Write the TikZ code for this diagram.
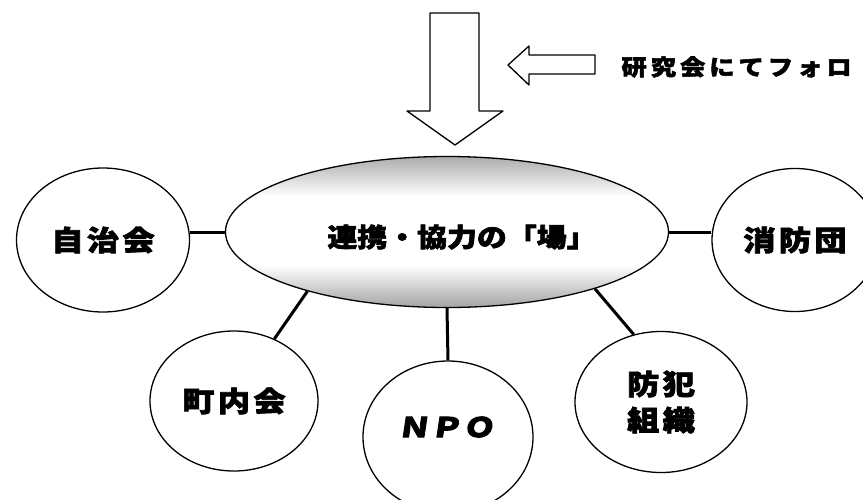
\documentclass[tikz,border=0pt]{standalone}
\usepackage{fontspec}
\usetikzlibrary{shapes.geometric}
\newfontfamily\cjk{Noto Sans CJK JP}[FakeStretch=1.15, FakeBold=2.5]
\newfontfamily\cjkslant{Noto Sans CJK JP}[FakeStretch=1.2, FakeBold=3, FakeSlant=0.15]
\pgfdeclareverticalshading{fieldshade}{100bp}{color(0bp)=(gray!72); color(25bp)=(gray!72); color(39bp)=(white); color(62bp)=(white); color(75bp)=(gray!65); color(100bp)=(gray!65)}
\begin{document}
\begin{tikzpicture}[x=1pt,y=-1pt,
    group/.style={draw, ellipse, line width=1.3pt, fill=white, inner sep=0pt,
      minimum width=172pt, minimum height=143pt,
      font=\cjk\bfseries\fontsize{28}{36}\selectfont\addfontfeatures{LetterSpace=12},
      align=center},
    link/.style={line width=3pt},
    blockarrow/.style={draw, line width=1.3pt, fill=white, line join=round}]
    \useasboundingbox (0,0) rectangle (863,499);
    % arrows
    \draw[blockarrow] (430,13) -- (479,13) -- (479,111) -- (503,111)
      -- (455,145) -- (407,111) -- (430,111) -- cycle;
    \draw[blockarrow] (508,65) -- (529,46) -- (529,55) -- (595,55)
      -- (595,74) -- (529,74) -- (529,85) -- cycle;
    \node[anchor=west,
      font=\cjk\bfseries\fontsize{22}{26}\selectfont\addfontfeatures{LetterSpace=18}]
      (follow) at (618,67) {研究会にてフォロ};
    % the field
    \node[draw, ellipse, line width=1.3pt, shading=fieldshade, inner sep=0pt,
      minimum width=443pt, minimum height=151pt] (field) at (447,232) {};
    \node[font=\cjk\bfseries\fontsize{26}{30}\selectfont]
      (fieldlabel) at (462,237) {連携・協力の「場」};
    % groups
    \node[group, minimum width=173pt, minimum height=144pt] (jichi) at (103,240) {自治会};
    \node[group, minimum width=166pt] (shobo) at (795,240) {消防団};
    \node[group, minimum width=168pt, minimum height=140pt] (town) at (234,401) {町内会};
    \node[group, minimum width=170pt, minimum height=152pt] (npo) at (448,437) {};
    \node[font=\cjkslant\bfseries\fontsize{27}{30}\selectfont]
      (npolabel) at (446,427) {ＮＰＯ};
    \node[group, minimum height=141pt] (bouhan) at (661,402) {防犯\\組織};
    \begin{scope}[link]
      \draw (jichi.east |- field.west) -- (field.west);
      \draw (field.east) -- (shobo.west |- field.east);
      \draw (field.203) -- (town.57);
      \draw (field.south) -- (npo.north);
      \draw (field.339) -- (bouhan.112);
    \end{scope}
\end{tikzpicture}
\end{document}
